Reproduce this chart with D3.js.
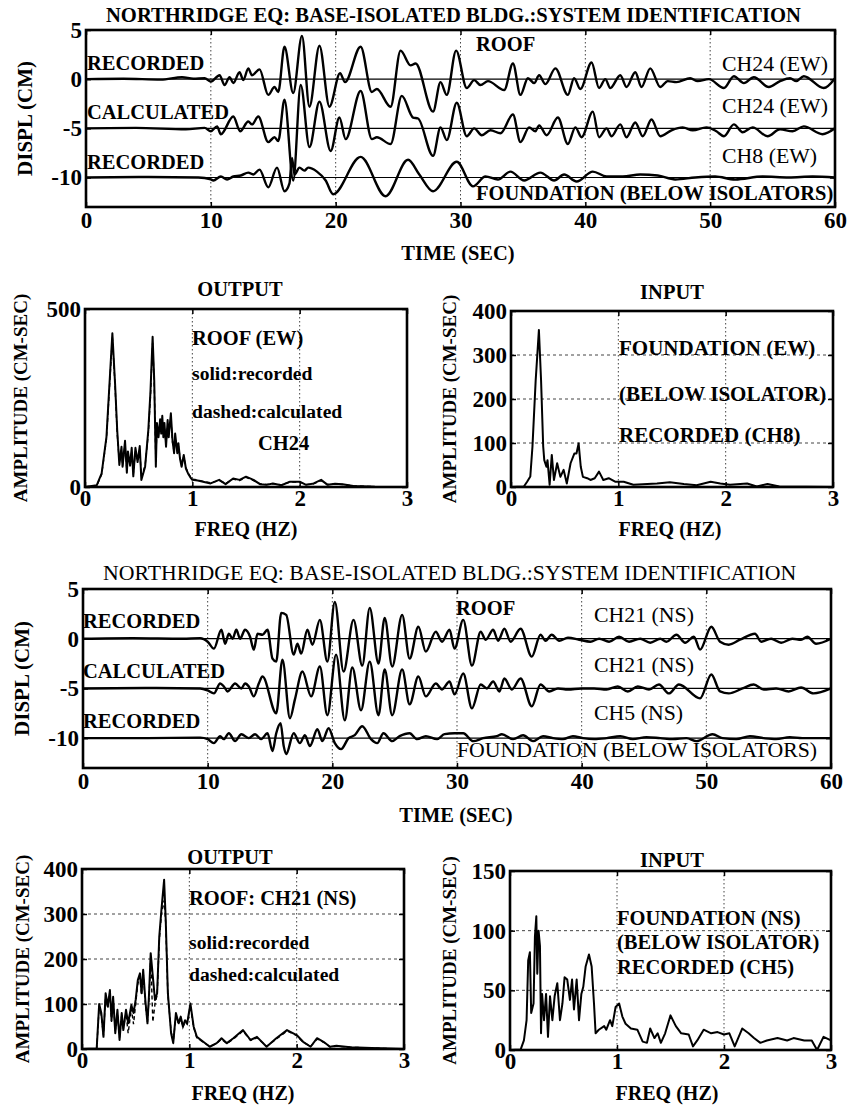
<!DOCTYPE html>
<html>
<head>
<meta charset="utf-8">
<script src="https://cdn.jsdelivr.net/npm/d3@7"></script>
<style>
  body { margin: 0; background: #fff; }
  svg text { font-family: "Liberation Serif", "Times New Roman", serif; fill: #000; }
</style>
</head>
<body>
<div id="chart"></div>
<script>
// ---- time histories: [time (s), displacement (cm)] ----
const ewRoofRec = [[0,0],[3,0.05],[6,-0.05],[7.7,0.2],[8.6,0.05],[9.5,0.1],[10,-0.25],[10.7,0.4],[11.1,-0.6],[11.5,0.2],[11.8,-0.4],[12.3,0.7],[12.6,-0.1],[13.0,1.1],[13.3,0.4],[13.9,1.0],[14.6,-1.6],[15.1,-0.8],[15.4,-1.3],[15.9,3.3],[16.6,-1.4],[17.3,4.4],[17.9,-2.8],[18.7,3.4],[19.5,-2.8],[20.35,0.6],[20.75,-0.3],[22.0,3.3],[22.9,-1.3],[23.3,-1.0],[24.4,-2.8],[25.2,2.9],[26.0,1.4],[26.4,1.6],[27.8,-3.3],[28.4,-0.3],[28.9,-1.6],[29.65,2.9],[30.5,-0.9],[31.1,-0.1],[31.6,-0.6],[32.2,-0.2],[33.5,-1.1],[34.2,1.6],[34.8,-1.6],[35.4,0.1],[35.9,-0.4],[36.3,0.4],[36.8,-0.5],[37.6,1.1],[38.6,-1.6],[39.1,0.1],[39.6,-1.0],[40.5,1.7],[41.1,-0.9],[41.6,0],[42.0,-0.9],[42.8,0.4],[43.3,-0.8],[44.0,0.7],[44.5,-0.8],[45.2,1.1],[46.0,-0.8],[46.6,-0.2],[47.3,-0.3],[48.4,0.1],[49.0,-0.2],[49.9,0],[51.1,-0.9],[51.9,0.3],[52.7,-0.4],[53.5,0.2],[54.7,-0.8],[55.6,-0.2],[56.4,0.1],[56.9,-0.2],[57.5,0.3],[59.1,-0.9],[60,0.1]];
const ewRoofCalc = [[0,0],[4,0.05],[8,-0.1],[9.5,0.05],[10,-0.3],[10.5,0.2],[10.8,-0.6],[11.8,1.2],[12.35,-0.3],[13.0,0.7],[13.3,0.4],[13.8,1.2],[14.6,-1.4],[15.1,-0.9],[15.4,-1.3],[15.9,2.9],[16.6,-5.3],[17.2,4.4],[17.9,-1.9],[18.7,2.7],[19.6,-2.3],[20.3,1.1],[20.8,-1.1],[22.0,3.8],[22.9,-1.1],[23.3,-0.9],[24.4,-1.6],[25.3,3.3],[26.2,1.1],[26.6,1.0],[27.8,-2.8],[28.4,0.1],[28.9,-1.2],[29.7,2.6],[30.5,-0.8],[31.1,0],[31.7,-0.7],[32.4,-0.2],[33.2,-0.5],[34.2,1.4],[34.8,-1.4],[35.5,0.1],[36.0,-0.3],[36.3,0.3],[36.9,-0.7],[37.8,1.1],[38.6,-1.6],[39.2,0.1],[39.7,-0.9],[40.6,1.7],[41.1,-0.9],[41.7,0],[42.1,-0.8],[42.8,0.4],[43.3,-0.9],[44.0,0.6],[44.6,-0.8],[45.3,0.9],[46.0,-0.8],[46.9,-0.2],[47.8,0.1],[48.6,-0.2],[49.7,0.1],[50.5,-0.3],[51.1,-0.8],[51.9,0.4],[52.6,-0.4],[53.4,0.1],[54.6,-0.8],[55.6,-0.1],[56.6,-0.3],[57.5,0.2],[59.0,-0.6],[60,0]];
const ewFoundRec = [[0,0],[5,0.05],[9,0],[10,-0.2],[10.2,-0.3],[10.8,0.1],[11.3,-0.2],[11.8,0.1],[12.4,0.2],[13.0,0.5],[13.4,0.3],[13.9,0.8],[14.6,-1.0],[15.3,1.0],[15.9,-1.4],[16.3,-0.6],[16.5,2.0],[16.7,0.3],[17.1,1.0],[17.5,0.7],[17.8,1.0],[18.5,0.6],[19.2,-0.3],[19.8,-1.7],[22.0,2.1],[24.0,-1.9],[25.8,1.8],[26.7,0.3],[27.8,-1.4],[29.7,1.6],[31.0,-0.9],[32.0,0.1],[33.0,-0.2],[34.0,0.6],[35.1,-0.3],[36.4,0.5],[37.5,-0.3],[38.3,0.3],[39.3,-0.4],[40.6,0.6],[41.7,0.1],[43.0,0.1],[44.4,0.3],[45.8,0.2],[47.2,-0.2],[48.8,0],[50.4,0.1],[52.0,-0.2],[54.2,0.1],[56.3,0],[58.2,0.1],[60,0]];

const nsRoofRec = [[0,0],[4,0.05],[8,0],[9.4,0.05],[10.0,-0.3],[10.5,-1.0],[11.1,0.9],[11.4,-0.5],[11.7,0.5],[12.0,0],[12.3,0.9],[12.6,0],[13.0,0.9],[13.4,0.2],[13.7,-1.1],[14.0,0.5],[14.4,0.4],[14.8,0.9],[15.2,-2.0],[15.5,-2.3],[15.9,2.6],[16.3,2.4],[16.9,-1.6],[17.2,-0.5],[17.5,-1.5],[18.0,0.9],[18.4,-0.6],[19.0,1.9],[19.6,-2.3],[20.2,3.7],[20.9,-3.3],[21.7,1.9],[22.4,-2.7],[23.0,3.1],[23.7,-2.5],[24.2,2.1],[24.8,-2.8],[25.6,2.4],[26.2,-2.0],[26.9,1.2],[27.5,-1.3],[28.3,0.7],[28.8,-0.3],[29.4,0.9],[29.8,-1.0],[30.5,1.9],[31.2,-2.7],[31.9,0.7],[32.3,-0.1],[32.9,0.9],[33.3,-0.2],[33.8,1.0],[34.3,-0.3],[35.1,1.0],[36.0,-1.8],[36.7,0.4],[37.1,-0.2],[37.6,0.4],[38.2,-0.2],[38.9,0.1],[39.8,-0.1],[40.7,-0.3],[41.4,0],[42.2,-0.3],[43.0,0.2],[43.8,-0.3],[44.7,0],[45.5,-0.4],[46.3,0],[46.8,-0.3],[47.6,0.4],[48.3,-0.4],[49.0,0.2],[49.5,-1.1],[50.4,1.2],[51.1,-0.3],[51.8,-0.6],[52.7,-0.1],[53.9,0.5],[54.4,-0.3],[55.2,0],[56.0,-0.4],[56.9,0],[57.6,-0.1],[58.1,0.2],[58.8,-0.5],[60,0]];
const nsRoofCalc = [[0,0],[5,0.05],[9.4,0],[10.0,-0.2],[10.5,-0.5],[11.0,0.5],[11.3,0.2],[11.6,-0.3],[12.2,0.5],[12.7,0],[13.0,0.5],[13.3,0.2],[13.7,-0.8],[14.1,0.5],[14.4,1.2],[15.5,-2.5],[16.0,2.9],[16.6,-3.0],[17.0,-1.1],[17.6,1.7],[18.3,-0.8],[19.0,2.2],[19.6,-2.7],[20.3,3.4],[21.0,-3.2],[21.6,2.1],[22.3,-2.2],[23.0,2.7],[23.7,-2.7],[24.2,1.9],[24.8,-2.7],[25.6,1.9],[26.2,-1.6],[26.9,1.2],[27.5,-0.8],[28.3,0.5],[28.8,-0.1],[29.4,0.7],[29.8,-0.6],[30.5,1.5],[31.2,-2.0],[31.9,0.4],[32.4,0],[32.9,0.7],[33.4,-0.3],[33.8,1.0],[34.4,-0.1],[35.1,1.0],[36.0,-1.8],[36.7,0.4],[37.4,-0.3],[38.1,0],[38.9,-0.1],[40.0,0],[41.0,0],[42.0,-0.1],[42.9,0.2],[43.7,-0.3],[44.5,0.2],[45.4,-0.1],[46.2,0.4],[47.0,-0.5],[47.8,0.4],[49.5,-1.0],[50.4,1.4],[51.1,-0.3],[51.8,-0.5],[52.9,0],[53.8,0.4],[54.6,-0.1],[55.6,0],[56.6,-0.3],[57.6,0.1],[58.6,-0.5],[60,0]];
const nsFoundRec = [[0,0],[5,0],[9.4,0.05],[10.0,-0.1],[10.5,-0.5],[11.0,0.2],[11.3,-0.1],[11.7,0.5],[12.2,-0.3],[12.7,0.4],[13.3,0],[13.8,0.4],[14.3,-0.1],[14.8,0.5],[15.2,-1.3],[15.5,0.5],[15.85,1.5],[16.1,-0.8],[16.3,-1.6],[16.9,0.5],[17.4,-0.5],[17.8,0.3],[18.2,-0.8],[18.8,0.9],[19.2,-0.3],[19.7,1.0],[20.2,-0.5],[20.7,-1.1],[21.3,0],[21.8,0.3],[22.4,1.2],[23.1,-0.1],[23.6,-0.5],[24.1,0.5],[24.8,-0.3],[25.4,0.2],[26.2,0.5],[26.8,-0.1],[27.5,0.2],[28.4,-0.1],[29.0,0.4],[29.8,0.5],[30.5,0.5],[31.3,-0.3],[32.1,0],[33.2,0.2],[33.6,0.4],[34.5,-0.1],[35.3,0.3],[36.1,-0.3],[36.9,0.2],[37.7,0],[38.5,-0.1],[39.3,0.2],[40.1,0],[41.0,-0.1],[42.0,0],[43.1,0.2],[44.1,-0.1],[45.2,0.1],[46.3,0],[47.3,-0.1],[48.4,0],[49.2,-0.3],[50.5,0.4],[51.3,0],[52.4,-0.1],[53.5,0.2],[54.6,0],[55.6,-0.1],[56.7,0.1],[57.7,0],[60,0]];

// vertical offsets used to stack the three traces
const traceOffsets = [0, -5, -10];

// ---- Fourier amplitude spectra: [freq (Hz), amplitude (cm-sec)] ----
const ewOutRec = [[0,0],[0.11,5],[0.155,38],[0.2,141],[0.23,300],[0.255,432],[0.28,291],[0.30,160],[0.32,62],[0.34,113],[0.35,57],[0.373,130],[0.39,40],[0.40,100],[0.42,60],[0.435,110],[0.45,30],[0.47,110],[0.49,70],[0.51,115],[0.525,20],[0.56,57],[0.59,160],[0.61,268],[0.63,422],[0.645,300],[0.66,57],[0.67,180],[0.685,140],[0.70,190],[0.71,150],[0.72,200],[0.73,140],[0.74,180],[0.755,113],[0.77,188],[0.78,140],[0.80,207],[0.815,132],[0.83,95],[0.84,150],[0.86,95],[0.87,123],[0.885,80],[0.90,57],[0.92,90],[0.94,52],[0.96,38],[0.98,28],[1.0,20],[1.05,18],[1.1,15],[1.17,10],[1.25,20],[1.31,8],[1.38,24],[1.44,20],[1.5,29],[1.57,20],[1.63,8],[1.69,6],[1.75,10],[1.83,5],[1.91,15],[2.0,15],[2.06,6],[2.13,10],[2.2,20],[2.26,6],[2.33,9],[2.4,8],[2.5,3],[2.7,1],[3.0,0]];
const ewOutCalc = [[0,0],[0.11,4],[0.155,35],[0.2,135],[0.23,290],[0.255,420],[0.28,285],[0.30,150],[0.32,70],[0.34,105],[0.35,60],[0.373,120],[0.39,45],[0.40,95],[0.42,65],[0.435,100],[0.45,35],[0.47,100],[0.49,75],[0.51,105],[0.525,30],[0.56,60],[0.59,150],[0.61,255],[0.63,405],[0.645,290],[0.66,70],[0.67,170],[0.685,150],[0.70,180],[0.71,160],[0.72,190],[0.73,150],[0.74,170],[0.755,120],[0.77,175],[0.78,150],[0.80,195],[0.815,125],[0.83,100],[0.84,140],[0.86,100],[0.87,115],[0.885,85],[0.90,60],[0.92,85],[0.94,55],[0.96,40],[0.98,30],[1.0,22],[1.05,20],[1.1,16],[1.17,12],[1.25,18],[1.31,10],[1.38,22],[1.44,18],[1.5,27],[1.57,18],[1.63,9],[1.69,7],[1.75,9],[1.83,6],[1.91,14],[2.0,14],[2.06,7],[2.13,9],[2.2,18],[2.26,7],[2.33,8],[2.4,7],[2.5,3],[2.7,1],[3.0,0]];
const ewInRec = [[0,0],[0.12,1],[0.15,12],[0.18,24],[0.20,92],[0.23,243],[0.26,357],[0.28,243],[0.30,92],[0.31,61],[0.33,46],[0.34,61],[0.36,5],[0.38,73],[0.40,16],[0.43,54],[0.46,23],[0.49,39],[0.52,8],[0.555,54],[0.59,76],[0.61,76],[0.63,99],[0.65,46],[0.67,23],[0.71,20],[0.74,16],[0.78,20],[0.82,35],[0.86,16],[0.91,20],[0.97,12],[1.05,12],[1.14,5],[1.27,7],[1.36,8],[1.48,11],[1.61,7],[1.73,4],[1.86,12],[1.95,8],[2.04,5],[2.2,8],[2.29,1],[2.39,7],[2.5,1],[3.0,0]];
const nsOutRec = [[0,0],[0.137,1],[0.16,100],[0.18,80],[0.2,27],[0.22,124],[0.24,95],[0.26,131],[0.275,64],[0.29,116],[0.31,35],[0.33,87],[0.35,20],[0.37,80],[0.385,42],[0.41,87],[0.43,57],[0.46,98],[0.48,80],[0.50,109],[0.52,153],[0.54,168],[0.555,124],[0.57,176],[0.59,109],[0.61,57],[0.625,124],[0.64,213],[0.66,161],[0.68,109],[0.70,124],[0.72,250],[0.74,309],[0.765,376],[0.78,287],[0.80,124],[0.83,35],[0.85,13],[0.875,80],[0.90,57],[0.92,72],[0.94,50],[0.96,64],[0.98,57],[1.01,101],[1.04,50],[1.07,27],[1.13,16],[1.19,5],[1.255,13],[1.30,24],[1.35,13],[1.41,24],[1.50,42],[1.57,20],[1.63,27],[1.72,5],[1.81,24],[1.91,42],[2.0,31],[2.06,16],[2.13,5],[2.19,24],[2.25,16],[2.31,5],[2.37,7],[2.5,4],[2.7,2],[3.0,0]];
const nsOutCalc = [[0,0],[0.137,1],[0.16,95],[0.18,75],[0.2,30],[0.22,118],[0.24,90],[0.26,125],[0.275,60],[0.29,110],[0.31,40],[0.33,80],[0.35,25],[0.37,75],[0.385,45],[0.41,80],[0.43,35],[0.46,90],[0.48,55],[0.50,100],[0.52,145],[0.54,160],[0.555,120],[0.57,170],[0.59,100],[0.61,60],[0.625,115],[0.64,205],[0.66,60],[0.68,100],[0.70,120],[0.72,240],[0.74,300],[0.765,330],[0.78,280],[0.80,120],[0.83,40],[0.85,15],[0.875,75],[0.90,55],[0.92,68],[0.94,48],[0.96,60],[0.98,55],[1.01,95],[1.04,48],[1.07,25],[1.13,15],[1.19,6],[1.255,12],[1.30,22],[1.35,12],[1.41,22],[1.50,40],[1.57,19],[1.63,25],[1.72,6],[1.81,22],[1.91,40],[2.0,30],[2.06,15],[2.13,6],[2.19,22],[2.25,15],[2.31,5],[2.37,6],[2.5,4],[2.7,2],[3.0,0]];
const nsInRec = [[0,0],[0.10,0.5],[0.13,8],[0.155,25],[0.17,75],[0.186,82],[0.198,31],[0.22,39],[0.233,95],[0.246,112],[0.255,64],[0.267,100],[0.28,87],[0.29,14],[0.30,47],[0.318,25],[0.337,47],[0.355,11],[0.374,45],[0.396,25],[0.417,45],[0.442,56],[0.467,25],[0.49,39],[0.51,61],[0.535,59],[0.56,42],[0.58,59],[0.598,34],[0.623,59],[0.645,25],[0.667,47],[0.685,53],[0.707,70],[0.738,80],[0.763,70],[0.785,39],[0.80,14],[0.83,17],[0.88,20],[0.90,17],[0.935,25],[0.956,20],[0.987,36],[1.02,39],[1.05,28],[1.08,22],[1.13,18],[1.19,17],[1.24,7],[1.28,6],[1.31,18],[1.35,10],[1.38,14],[1.41,6],[1.45,14],[1.5,29],[1.55,20],[1.6,14],[1.67,13],[1.71,3],[1.75,8],[1.81,17],[1.88,14],[1.94,15],[2.0,13],[2.05,14],[2.1,3],[2.17,18],[2.23,14],[2.28,10],[2.34,6],[2.4,8],[2.5,10],[2.59,8],[2.65,10],[2.75,8],[2.82,8],[2.87,0],[2.93,11],[3.0,8]];

// ticks
const timeTicks = [0, 10, 20, 30, 40, 50, 60];
const displTicks = [5, 0, -5, -10];
const freqTicks = [0, 1, 2, 3];

const W = 849, H = 1108;
const svg = d3.select("#chart").append("svg")
  .attr("width", W).attr("height", H);

const BOLD = "bold", REG = "normal";

function addText(g, t) {
  g.append("text")
    .attr("x", t.x).attr("y", t.y)
    .attr("text-anchor", t.anchor || "start")
    .style("font-size", (t.size || 20.5) + "px")
    .style("font-weight", t.weight || BOLD)
    .text(t.text);
}

function addRotLabel(g, text, cx, cy, size) {
  g.append("text")
    .attr("transform", `translate(${cx},${cy}) rotate(-90)`)
    .attr("text-anchor", "middle")
    .attr("dominant-baseline", "central")
    .style("font-size", size + "px")
    .style("font-weight", BOLD)
    .text(text);
}

// frame + grid + ticks shared by both kinds of panel
function drawFrame(g, p, x, y) {
  const gridX = p.xTicks.slice(1, -1);
  const gridY = p.gridY;

  g.append("g").selectAll("line").data(gridX).join("line")
    .attr("x1", d => x(d)).attr("x2", d => x(d))
    .attr("y1", p.top).attr("y2", p.bottom)
    .attr("stroke", "#444").attr("stroke-width", 1)
    .attr("stroke-dasharray", "1.5,2.5");

  g.append("g").selectAll("line").data(gridY).join("line")
    .attr("x1", p.left).attr("x2", p.right)
    .attr("y1", d => y(d)).attr("y2", d => y(d))
    .attr("stroke", "#444").attr("stroke-width", 1)
    .attr("stroke-dasharray", "3,3");

  const fmt = d => String(d);
  const bx = g.append("g").attr("transform", `translate(0,${p.bottom})`)
    .call(d3.axisBottom(x).tickValues(p.xTicks).tickSizeInner(-5).tickSizeOuter(0).tickPadding(p.xPad).tickFormat(fmt));
  const ly = g.append("g").attr("transform", `translate(${p.left},0)`)
    .call(d3.axisLeft(y).tickValues(p.yTicks).tickSizeInner(-5).tickSizeOuter(0).tickPadding(p.yPad).tickFormat(fmt));
  g.append("g").attr("transform", `translate(0,${p.top})`)
    .call(d3.axisTop(x).tickValues(p.xTicks).tickSizeInner(-5).tickSizeOuter(0).tickFormat(""));
  g.append("g").attr("transform", `translate(${p.right},0)`)
    .call(d3.axisRight(y).tickValues(p.yTicks).tickSizeInner(-5).tickSizeOuter(0).tickFormat(""));

  g.selectAll(".domain").remove();
  g.selectAll(".tick line").attr("stroke", "#000").attr("stroke-width", 1.5);
  [bx, ly].forEach(a => a.selectAll("text")
    .style("font-family", '"Liberation Serif", serif')
    .style("font-size", "23px").style("font-weight", BOLD).attr("fill", "#000"));
}

function drawBox(g, p) {
  g.append("rect")
    .attr("x", p.left).attr("y", p.top)
    .attr("width", p.right - p.left).attr("height", p.bottom - p.top)
    .attr("fill", "none").attr("stroke", "#000").attr("stroke-width", 2.6);
}

function timePanel(p) {
  const g = svg.append("g");
  const x = d3.scaleLinear().domain([0, 60]).range([p.left, p.right]);
  const y = d3.scaleLinear().domain([-13, 5]).range([p.bottom, p.top]);

  drawFrame(g, Object.assign({ xTicks: timeTicks, yTicks: displTicks, gridY: [], xPad: 5, yPad: 4 }, p), x, y);

  // baselines
  g.append("g").selectAll("line").data(traceOffsets).join("line")
    .attr("x1", p.left).attr("x2", p.right)
    .attr("y1", d => y(d)).attr("y2", d => y(d))
    .attr("stroke", "#000").attr("stroke-width", 1.2);

  const line = off => d3.line()
    .x(d => x(d[0])).y(d => y(d[1] + off))
    .curve(d3.curveMonotoneX);

  p.traces.forEach((tr, i) => {
    g.append("path").datum(tr)
      .attr("d", line(traceOffsets[i]))
      .attr("fill", "none").attr("stroke", "#000")
      .attr("stroke-width", 2.4).attr("stroke-linejoin", "round");
  });

  drawBox(g, p);
  p.texts.forEach(t => addText(g, t));
  addRotLabel(g, "DISPL (CM)", p.yLabelX, (p.top + p.bottom) / 2, 21);
}

function specPanel(p) {
  const g = svg.append("g");
  const x = d3.scaleLinear().domain([0, 3]).range([p.left, p.right]);
  const y = d3.scaleLinear().domain([0, p.yMax]).range([p.bottom, p.top]);

  drawFrame(g, Object.assign({ xTicks: freqTicks, xPad: 3, yPad: 4 }, p), x, y);

  const line = d3.line().x(d => x(d[0])).y(d => y(d[1]));
  if (p.calc) {
    g.append("path").datum(p.calc)
      .attr("d", line).attr("fill", "none").attr("stroke", "#000")
      .attr("stroke-width", 1.4).attr("stroke-dasharray", "4,3");
  }
  g.append("path").datum(p.rec)
    .attr("d", line).attr("fill", "none").attr("stroke", "#000")
    .attr("stroke-width", 2).attr("stroke-linejoin", "round");

  drawBox(g, p);
  p.texts.forEach(t => addText(g, t));
  addRotLabel(g, "AMPLITUDE (CM-SEC)", p.yLabelX, (p.top + p.bottom) / 2, 19);
  addText(g, { text: "FREQ (HZ)", x: p.fLabelX, y: p.fLabelY, anchor: "middle", size: 20 });
}

// ---- top time history (EW) ----
timePanel({
  left: 86, right: 835, top: 30, bottom: 207, yLabelX: 25,
  traces: [ewRoofRec, ewRoofCalc, ewFoundRec],
  texts: [
    { text: "NORTHRIDGE EQ: BASE-ISOLATED BLDG.:SYSTEM IDENTIFICATION", x: 106, y: 22, size: 20.6 },
    { text: "RECORDED", x: 87, y: 70 },
    { text: "CALCULATED", x: 87, y: 119 },
    { text: "RECORDED", x: 87, y: 169 },
    { text: "ROOF", x: 476, y: 51 },
    { text: "CH24 (EW)", x: 722, y: 71, weight: REG, size: 21.8 },
    { text: "CH24 (EW)", x: 722, y: 113, weight: REG, size: 21.8 },
    { text: "CH8 (EW)", x: 722, y: 163, weight: REG, size: 21.8 },
    { text: "FOUNDATION (BELOW ISOLATORS)", x: 476, y: 200 },
    { text: "TIME (SEC)", x: 458, y: 260, anchor: "middle", size: 20.5 }
  ]
});

// ---- second row spectra (EW) ----
specPanel({
  left: 85, right: 407, top: 309, bottom: 487, yMax: 500,
  yTicks: [0, 500], gridY: [], yLabelX: 20,
  rec: ewOutRec, calc: ewOutCalc, fLabelX: 246, fLabelY: 536,
  texts: [
    { text: "OUTPUT", x: 240, y: 296, anchor: "middle" },
    { text: "ROOF (EW)", x: 192, y: 345 },
    { text: "solid:recorded", x: 192, y: 380, size: 19.6 },
    { text: "dashed:calculated", x: 192, y: 418, size: 19.6 },
    { text: "CH24", x: 258, y: 450 }
  ]
});
specPanel({
  left: 511, right: 833, top: 311, bottom: 487, yMax: 400,
  yTicks: [0, 100, 200, 300, 400], gridY: [100, 200, 300], yLabelX: 449,
  rec: ewInRec, fLabelX: 670, fLabelY: 536,
  texts: [
    { text: "INPUT", x: 672, y: 299, anchor: "middle" },
    { text: "FOUNDATION (EW)", x: 619, y: 355, size: 21 },
    { text: "(BELOW ISOLATOR)", x: 619, y: 401, size: 21 },
    { text: "RECORDED (CH8)", x: 619, y: 442, size: 21 }
  ]
});

// ---- third row time history (NS) ----
timePanel({
  left: 83, right: 831, top: 589, bottom: 768, yLabelX: 22,
  traces: [nsRoofRec, nsRoofCalc, nsFoundRec],
  texts: [
    { text: "NORTHRIDGE EQ: BASE-ISOLATED BLDG.:SYSTEM IDENTIFICATION", x: 103, y: 580, weight: REG, size: 21.8 },
    { text: "RECORDED", x: 83, y: 628 },
    { text: "CALCULATED", x: 83, y: 678 },
    { text: "RECORDED", x: 83, y: 728 },
    { text: "ROOF", x: 456, y: 615 },
    { text: "CH21 (NS)", x: 594, y: 622, weight: REG, size: 21.8 },
    { text: "CH21 (NS)", x: 594, y: 672, weight: REG, size: 21.8 },
    { text: "CH5 (NS)", x: 594, y: 720, weight: REG, size: 21.8 },
    { text: "FOUNDATION (BELOW ISOLATORS)", x: 457, y: 757, weight: REG, size: 21.8 },
    { text: "TIME (SEC)", x: 456, y: 822, anchor: "middle", size: 20.5 }
  ]
});

// ---- bottom row spectra (NS) ----
specPanel({
  left: 82, right: 404, top: 869, bottom: 1049, yMax: 400,
  yTicks: [0, 100, 200, 300, 400], gridY: [100, 200, 300], yLabelX: 22,
  rec: nsOutRec, calc: nsOutCalc, fLabelX: 243, fLabelY: 1100,
  texts: [
    { text: "OUTPUT", x: 230, y: 864, anchor: "middle" },
    { text: "ROOF: CH21 (NS)", x: 189, y: 905 },
    { text: "solid:recorded", x: 189, y: 949, size: 19.6 },
    { text: "dashed:calculated", x: 189, y: 981, size: 19.6 }
  ]
});
specPanel({
  left: 510, right: 831, top: 871, bottom: 1050, yMax: 150,
  yTicks: [0, 50, 100, 150], gridY: [50, 100], yLabelX: 449,
  rec: nsInRec, fLabelX: 667, fLabelY: 1100,
  texts: [
    { text: "INPUT", x: 672, y: 867, anchor: "middle" },
    { text: "FOUNDATION (NS)", x: 617, y: 925 },
    { text: "(BELOW ISOLATOR)", x: 617, y: 949 },
    { text: "RECORDED (CH5)", x: 617, y: 974 }
  ]
});
</script>
</body>
</html>
